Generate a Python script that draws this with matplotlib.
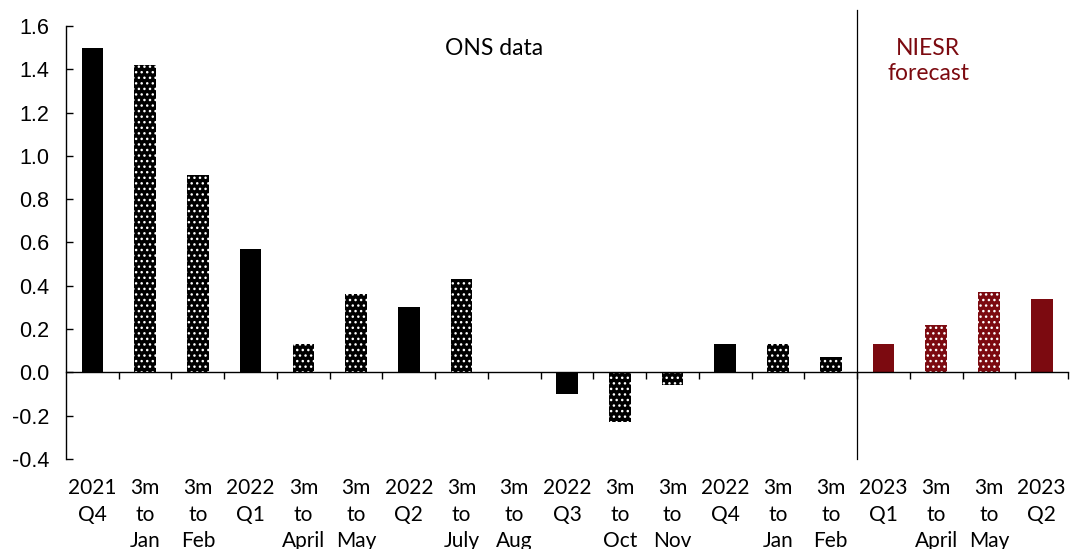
import matplotlib
matplotlib.use('Agg')
import matplotlib.pyplot as plt

plt.rcParams['font.family'] = ['Lato', 'DejaVu Sans']
plt.rcParams['hatch.linewidth'] = 1.0

# Categories and values (% growth)
etiquetas = ['2021\nQ4', '3m\nto\nJan', '3m\nto\nFeb', '2022\nQ1', '3m\nto\nApril',
             '3m\nto\nMay', '2022\nQ2', '3m\nto\nJuly', '3m\nto\nAug', '2022\nQ3',
             '3m\nto\nOct', '3m\nto\nNov', '2022\nQ4', '3m\nto\nJan', '3m\nto\nFeb',
             '2023\nQ1', '3m\nto\nApril', '3m\nto\nMay', '2023\nQ2']
valores = [1.50, 1.42, 0.91, 0.57, 0.13, 0.36, 0.30, 0.43, 0.0, -0.10,
           -0.23, -0.06, 0.13, 0.13, 0.07, 0.13, 0.22, 0.37, 0.34]
previsao = [False] * 15 + [True] * 4

PRETO = '#000000'
VERMELHO = '#7c0a10'

fig = plt.figure(figsize=(10.7, 5.49), dpi=100)
ax = fig.add_axes([0.0617, 0.164, 0.9365, 0.7886])

posicoes = list(range(len(valores)))
for x, v, lab, prev in zip(posicoes, valores, etiquetas, previsao):
    cor = VERMELHO if prev else PRETO
    if lab.startswith('3m'):
        ax.bar(x, v, width=0.41, color=cor, edgecolor='white', linewidth=0, hatch='...')
    else:
        ax.bar(x, v, width=0.41, color=cor, linewidth=0)

ax.set_xlim(-0.5, len(valores) - 0.5)
ax.set_ylim(-0.4, 1.6)
ax.set_yticks([-0.4, -0.2, 0.0, 0.2, 0.4, 0.6, 0.8, 1.0, 1.2, 1.4, 1.6])
ax.set_yticklabels([f'{t:.1f}' for t in ax.get_yticks()], family='Liberation Sans')
ax.tick_params(axis='y', direction='in', length=5, width=1, labelsize=15.5, pad=12)

ax.spines['top'].set_visible(False)
ax.spines['right'].set_visible(False)
ax.spines['bottom'].set_position(('data', 0))
ax.spines['left'].set_linewidth(1)
ax.spines['bottom'].set_linewidth(1)

# tick marks on the category boundaries, on the zero line
ax.set_xticks([p + 0.5 for p in posicoes])
ax.tick_params(axis='x', direction='out', length=5, width=1, labelbottom=False)

# category labels at the bottom of the axes
sec = ax.secondary_xaxis('bottom')
sec.set_xticks(posicoes, etiquetas)
sec.tick_params(length=0, pad=14, labelsize=15)
sec.spines['bottom'].set_visible(False)
for t in sec.get_xticklabels():
    t.set_linespacing(1.4)

# separator between data and forecast
ax.plot([14.5, 14.5], [-0.4, 1.675], color='black', linewidth=0.9, clip_on=False)

ax.text(7.62, 1.497, 'ONS data', ha='center', va='center', fontsize=16.5)
ax.text(15.85, 1.44, 'NIESR\nforecast', ha='center', va='center', fontsize=16.5,
        color=VERMELHO, linespacing=1.25)

fig.savefig('out.png', dpi=100)
